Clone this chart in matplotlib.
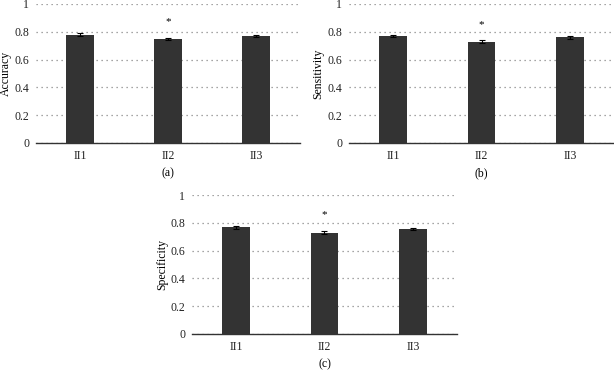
import matplotlib
matplotlib.use("Agg")
import matplotlib.pyplot as plt

groups = ["II1", "II2", "II3"]
accuracy = [0.78, 0.75, 0.77]
accuracy_err = [0.008, 0.007, 0.007]
sensitivity = [0.77, 0.73, 0.76]
sensitivity_err = [0.010, 0.010, 0.009]
specificity = [0.767, 0.73, 0.757]
specificity_err = [0.012, 0.010, 0.009]
star_y = [0.87, 0.855, 0.856]

plt.rcParams['font.family'] = ['Liberation Serif', 'DejaVu Serif']

W, H = 614, 371
fig = plt.figure(figsize=(W / 100, H / 100), dpi=100)


def panel(x0, x1, ytop, ybot, vals, errs, ylabel, letter, sy, lab_x):
    ax = fig.add_axes([x0 / W, (H - ybot) / H, (x1 - x0) / W, (ybot - ytop) / H])
    xs = range(len(groups))
    ax.bar(xs, vals, width=0.31, color="#333333", zorder=3)
    ax.errorbar(xs, vals, yerr=errs, fmt="none", ecolor="black",
                elinewidth=0.8, capsize=2, capthick=0.8, zorder=4)
    ax.text(1, sy, "*", ha="center", va="center", fontsize=8)
    ax.set_xlim(-0.5, 2.5)
    ax.set_ylim(0, 1)
    ax.set_yticks([0, 0.2, 0.4, 0.6, 0.8, 1])
    ax.set_yticklabels(["0", "0.2", "0.4", "0.6", "0.8", "1"])
    ax.set_xticks(list(xs))
    ax.set_xticklabels(groups)
    ax.tick_params(length=0, labelsize=8.5, colors="#222222", pad=5)
    ax.yaxis.grid(True, linestyle=(0, (1, 3)), color="#888888", linewidth=0.9)
    ax.set_axisbelow(True)
    for s in ["left", "right", "top"]:
        ax.spines[s].set_visible(False)
    ax.spines["bottom"].set_color("#333333")
    ax.spines["bottom"].set_linewidth(1.0)
    ax.set_ylabel(ylabel, fontsize=8.5)
    ax.yaxis.set_label_coords(lab_x, 0.5)
    ax.text(0.5, -0.216, letter, transform=ax.transAxes, ha="center",
            va="center", fontsize=8.5)
    return ax


panel(36, 300, 4, 143, accuracy, accuracy_err, "Accuracy", "(a)", star_y[0], -0.091)
panel(349, 614, 4, 143, sensitivity, sensitivity_err, "Sensitivity", "(b)", star_y[1], -0.094)
panel(192, 457, 195, 334, specificity, specificity_err, "Specificity", "(c)", star_y[2], -0.09)

fig.savefig("out.png", dpi=100)
